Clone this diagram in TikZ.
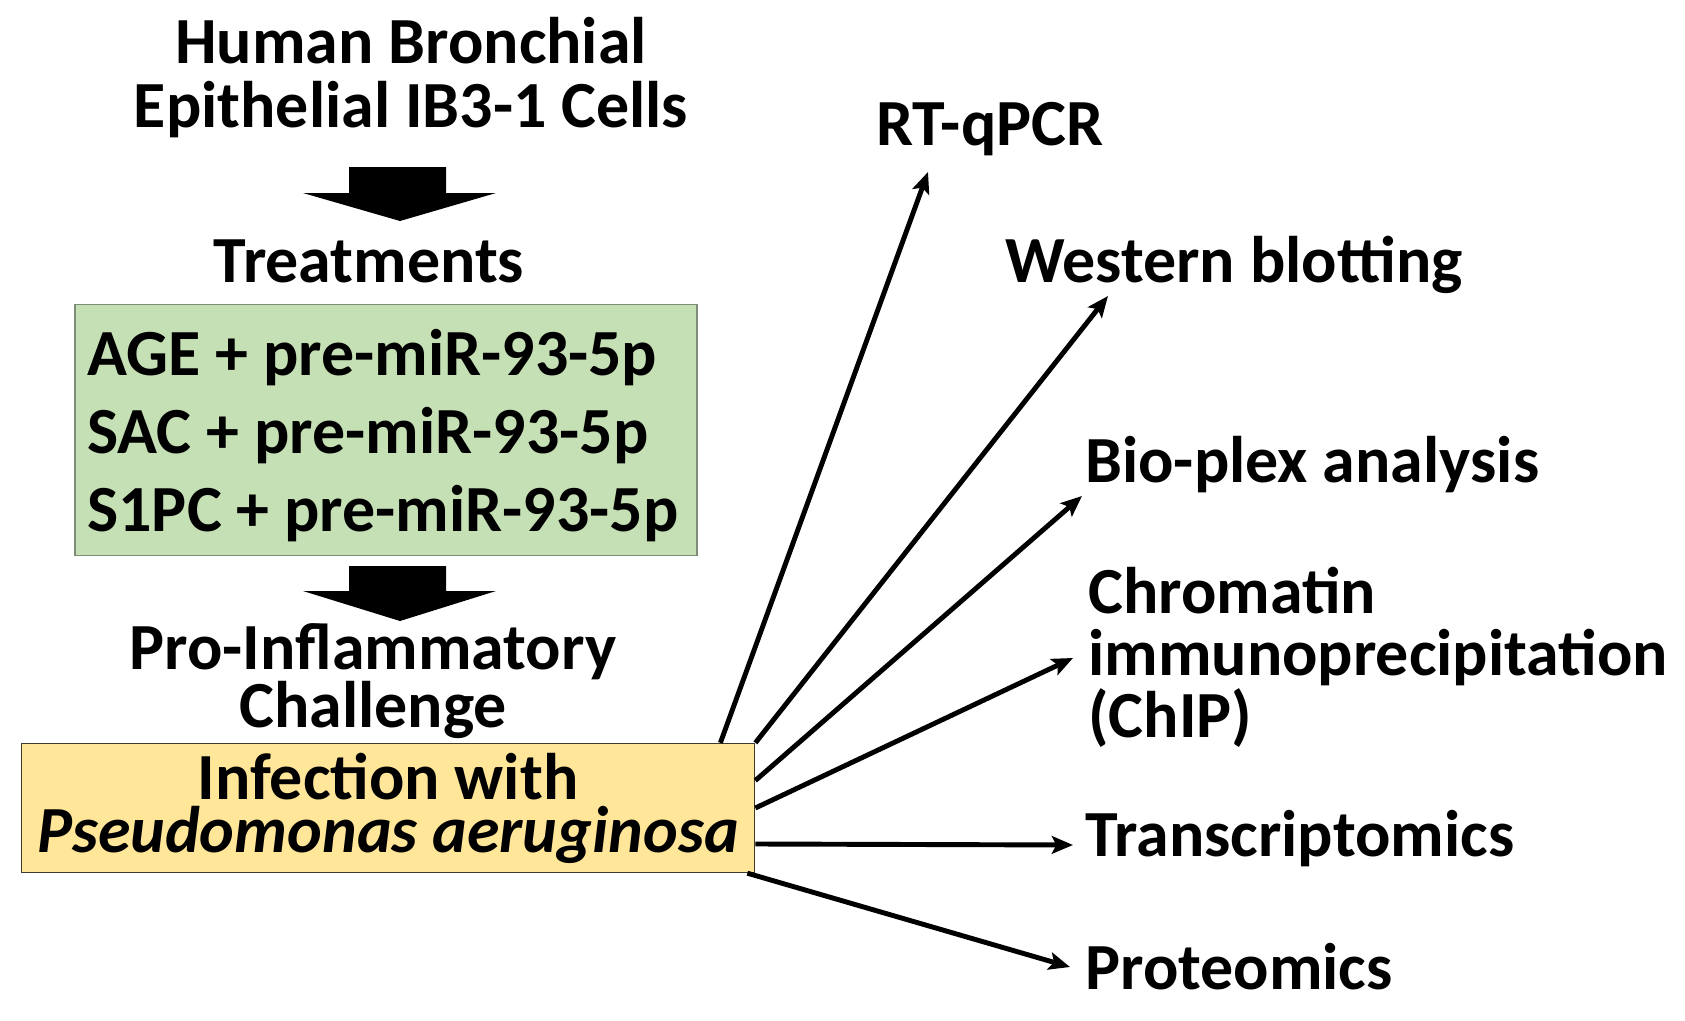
\documentclass[tikz,border=0pt]{standalone}
\usepackage{fontspec}
\setmainfont{Carlito}
\usetikzlibrary{arrows.meta,positioning}
\definecolor{TreatGreen}{HTML}{C5E0B4}
\definecolor{TreatEdge}{HTML}{7F8C7A}
\definecolor{InfYellow}{HTML}{FFE699}
\definecolor{InfEdge}{HTML}{3F3A2A}
\newcommand{\bigbold}[1]{\bfseries\fontsize{37.5}{#1}\selectfont}

\begin{document}
\begin{tikzpicture}[x=0.02cm,y=-0.02cm,>={Stealth[length=12pt,width=10pt,inset=2.5pt]}]
\tikzset{
  ttl/.style={inner sep=0pt,align=center},
  meth/.style={anchor=base west,inner sep=0pt,font=\bigbold{40}},
  fanarrow/.style={->,line width=2.8pt,black},
  blockarrow/.style={fill=black}
}
\useasboundingbox (0,0) rectangle (1685,1021);
% left column
\node[ttl,font=\bigbold{36.4}] (cells) at (411,78) {Human Bronchial\\Epithelial IB3-1 Cells};
\fill[blockarrow] (349,167) -- (446,167) -- (446,193) -- (496,193) -- (400,221) -- (303,193) -- (349,193) -- cycle;
\node[anchor=base,inner sep=0pt,font=\bigbold{40}] (treat) at (369,282) {Treatments};
\node[draw=TreatEdge,line width=0.8pt,fill=TreatGreen,minimum width=12.44cm,minimum height=5.02cm] (mix) at (386,430) {};
\node[align=left,inner sep=0pt,font=\bigbold{44.4}] (mixtxt) at ([xshift=-0.06cm,yshift=-0.12cm]mix.center)
      {AGE + pre-miR-93-5p\\SAC + pre-miR-93-5p\\S1PC + pre-miR-93-5p};
\fill[blockarrow] (349,566) -- (446,566) -- (446,591) -- (496,591) -- (400,621) -- (303,591) -- (349,591) -- cycle;
\node[ttl,font=\bigbold{31.9}] (chall) at (373,681) {Pro-Inflammatory\\Challenge};
\node[draw=InfEdge,line width=0.8pt,fill=InfYellow,minimum width=14.67cm,minimum height=2.58cm,
      ttl,font=\bigbold{30.2}] (inf) at (388,808) {Infection with\\\textit{Pseudomonas aeruginosa}};
% read-outs
\node[meth] (rtq) at (876,145) {RT-qPCR};
\node[meth] (wb) at (1005,282) {Western blotting};
\node[meth] (bio) at (1085,482) {Bio-plex analysis};
\node[anchor=west,inner sep=0pt,align=left,font=\bigbold{35.3}] (chip) at (1088,657)
      {Chromatin\\immunoprecipitation\\(ChIP)};
\node[meth] (trx) at (1085,856) {Transcriptomics};
\node[meth] (prot) at (1085,989) {Proteomics};
\coordinate (rtqtip) at (928,172);
\coordinate (wbtip) at (1108,296);
\coordinate (biotip) at (1082,496);
\coordinate (chiptip) at (1073,658);
\coordinate (trxtip) at (1073,845);
\coordinate (prottip) at (1070,967);
\draw[fanarrow] ([xshift=-0.7cm]inf.north east) -- (rtqtip);
\draw[fanarrow] (inf.north east) -- (wbtip);
\draw[fanarrow] ([yshift=0.55cm]inf.east) -- (biotip);
\draw[fanarrow] (inf.east) -- (chiptip);
\draw[fanarrow] ([yshift=-0.72cm]inf.east) -- (trxtip);
\draw[fanarrow] ([xshift=-0.16cm]inf.south east) -- (prottip);
\end{tikzpicture}
\end{document}
